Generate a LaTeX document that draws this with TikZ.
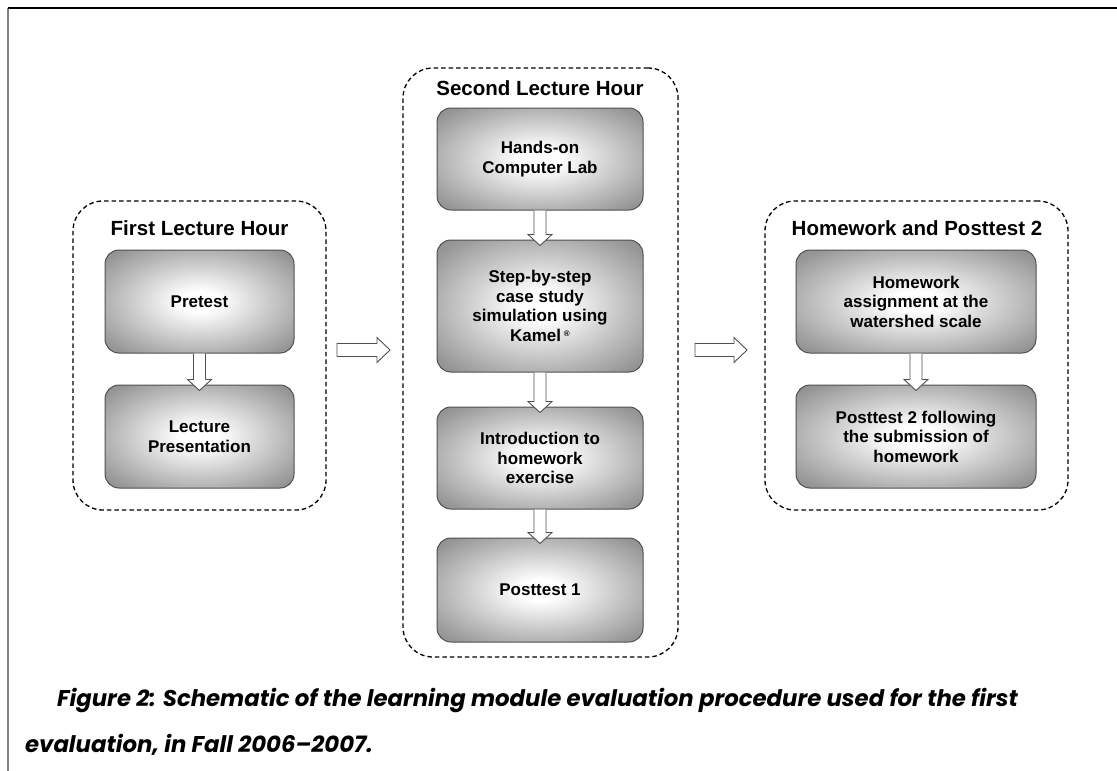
\documentclass[tikz,border=0pt]{standalone}
\usepackage{fontspec}
\setmainfont{Liberation Sans}
\newfontfamily\capfont{Poppins}
\usetikzlibrary{calc}
\definecolor{boxgray}{HTML}{959595}
\definecolor{boxdark}{HTML}{7E7E7E}
\definecolor{boxborder}{HTML}{505050}
\definecolor{framegray}{HTML}{808080}
\pgfdeclareradialshading{boxshade}{\pgfpoint{0bp}{0bp}}{color(0bp)=(white); color(5bp)=(white); color(32bp)=(boxgray); color(50bp)=(boxdark); color(72bp)=(boxdark)}
\tikzset{
  grp/.style={draw=black, line width=1.3pt, dash pattern=on 4.5pt off 3pt, rounded corners=30pt, inner sep=0pt},
  grptitle/.style={font=\bfseries\fontsize{20.5}{24}\selectfont, inner sep=0pt},
  stepbox/.style={draw=boxborder, line width=1pt, rounded corners=14pt, shading=boxshade, align=center, inner sep=0pt, font=\bfseries\fontsize{17}{19.5}\selectfont},
  barrow/.style={draw=boxborder, line width=0.9pt, fill=white, line join=miter},
  capt/.style={font=\capfont\bfseries\itshape\fontsize{22.8}{26}\selectfont, inner sep=0pt, anchor=base west}
}
\newcommand\vbarrow[2]{%
  \draw[barrow] ($(#1.south)+(-6,0)$) -- ($(#2.north)+(-6,-5)$) -- ($(#2.north)+(-12,-5)$) -- ($(#2.north)+(0,6)$) -- ($(#2.north)+(12,-5)$) -- ($(#2.north)+(6,-5)$) -- ($(#1.south)+(6,0)$);}
\newcommand\hbarrow[2]{%
  \draw[barrow] ($(#1)+(0,-6.5)$) -- ($(#2)+(-13,-6.5)$) -- ($(#2)+(-13,-12.5)$) -- (#2) -- ($(#2)+(-13,12.5)$) -- ($(#2)+(-13,6.5)$) -- ($(#1)+(0,6.5)$) -- cycle;}
\begin{document}
\begin{tikzpicture}[x=1pt,y=-1pt]
\useasboundingbox (0,0) rectangle (1117,771);
% frame
\draw[framegray, line width=1.2pt] (8,8) -- (8,771);
\draw[black, line width=1.2pt] (8,8) -- (1117,8);
% groups
\node[grp, minimum width=253pt, minimum height=309pt] (g1) at (199.5,355.5) {};
\node[grp, minimum width=275pt, minimum height=589pt] (g2) at (540.5,362.5) {};
\node[grp, minimum width=303pt, minimum height=309pt] (g3) at (916.5,355.5) {};
\node[grptitle] (t1) at (199.5,228) {First Lecture Hour};
\node[grptitle] (t2) at (540,88) {Second Lecture Hour};
\node[grptitle] (t3) at (917,228) {Homework and Posttest 2};
% boxes
\node[stepbox, minimum width=189pt, minimum height=103pt] (b11) at (199.5,301.5) {Pretest};
\node[stepbox, minimum width=189pt, minimum height=103pt] (b12) at (199.5,436.5) {Lecture\\Presentation};
\node[stepbox, minimum width=206pt, minimum height=102pt] (b21) at (540,159) {Hands-on\\Computer Lab};
\node[stepbox, minimum width=206pt, minimum height=132pt] (b22) at (540,306) {Step-by-step\\case study\\simulation using\\Kamel\,\raisebox{0.5ex}{\fontsize{8}{8}\selectfont\textregistered}};
\node[stepbox, minimum width=206pt, minimum height=102pt] (b23) at (540,458) {Introduction to\\homework\\exercise};
\node[stepbox, minimum width=206pt, minimum height=104pt] (b24) at (540,590) {Posttest 1};
\node[stepbox, minimum width=240pt, minimum height=103pt] (b31) at (916,301.5) {Homework\\assignment at the\\watershed scale};
\node[stepbox, minimum width=240pt, minimum height=103pt] (b32) at (916,436.5) {Posttest 2 following\\the submission of\\homework};
% arrows
\vbarrow{b11}{b12}
\vbarrow{b21}{b22}
\vbarrow{b22}{b23}
\vbarrow{b23}{b24}
\vbarrow{b31}{b32}
\coordinate (a1s) at (337,350);
\coordinate (a1e) at (390,350);
\coordinate (a2s) at (695,350);
\coordinate (a2e) at (747,350);
\hbarrow{a1s}{a1e}
\hbarrow{a2s}{a2e}
% caption
\node[capt] (c1) at (57,706) {Figure 2: Schematic of the learning module evaluation procedure used for the first};
\node[capt] (c2) at (25,752) {evaluation, in Fall 2006–2007.};
\end{tikzpicture}
\end{document}
